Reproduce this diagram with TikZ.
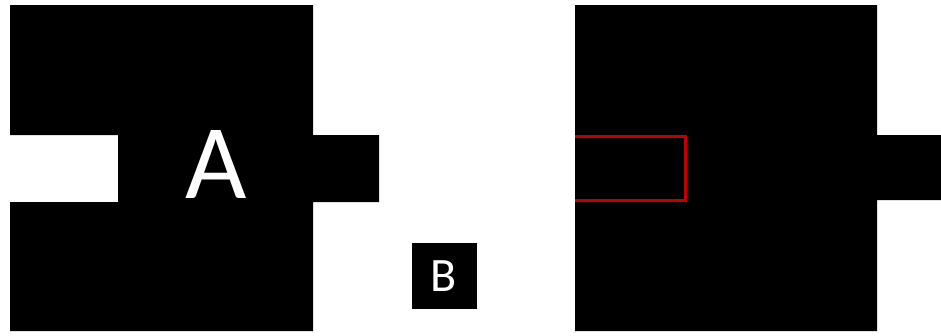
\documentclass[tikz,border=0pt]{standalone}
\usepackage{fontspec}
\setmainfont{Carlito}
\definecolor{outlinered}{HTML}{C00000}
\begin{document}
\begin{tikzpicture}[x=1pt,y=-1pt,
  blockfill/.style={fill=black,draw=none},
  lettertext/.style={text=white,inner sep=0pt,anchor=center},
  redoutline/.style={draw=outlinered,line width=3pt,line join=miter}]
\useasboundingbox (0,0) rectangle (941,335);
% left piece A
\path[blockfill] (10,5) -- (313,5) -- (313,135) -- (379,135) -- (379,202) -- (313,202)
  -- (313,331) -- (10,331) -- (10,202) -- (118,202) -- (118,135) -- (10,135) -- cycle;
\node[lettertext,font=\fontsize{106}{106}\selectfont] (A) at (216,164) {A};
% small piece B
\node[blockfill,minimum width=65pt,minimum height=66pt,inner sep=0pt,anchor=north west] (Bbox) at (412,243) {};
\node[lettertext,font=\fontsize{48}{48}\selectfont] (B) at (444,276) {B};
% right piece
\path[blockfill] (575,5) -- (877,5) -- (877,135) -- (941,135) -- (941,200) -- (877,200)
  -- (877,331) -- (575,331) -- cycle;
\draw[redoutline] (575,136.5) -- (685,136.5) -- (685,200.5) -- (575,200.5);
\end{tikzpicture}
\end{document}
